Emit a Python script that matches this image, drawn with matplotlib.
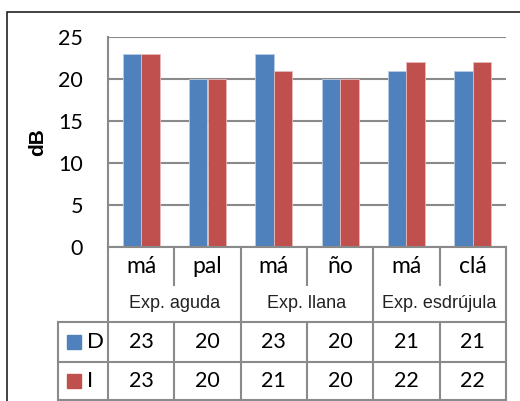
import matplotlib.pyplot as plt
import numpy as np
from matplotlib.patches import Rectangle

syllables = ["má", "pal", "má", "ño", "má", "clá"]
groups = ["Exp. aguda", "Exp. llana", "Exp. esdrújula"]
series_names = ["D", "I"]
d_vals = [23, 20, 23, 20, 21, 21]
i_vals = [23, 20, 21, 20, 22, 22]
yticks = [0, 5, 10, 15, 20, 25]

blue = "#4F81BD"
red = "#C0504D"
grid_c = "#8a8a8a"
num_font = "Lato"
lab_font = "Liberation Sans"

W, H = 520, 401
fig = plt.figure(figsize=(W / 100, H / 100), dpi=100)


def fx(px):
    return px / W


def fy(py):
    return 1 - py / H


# outer chart frame (runs off the canvas at right/bottom)
fig.patches.append(Rectangle((fx(7), fy(430)), fx(560), fy(12) - fy(430),
                             transform=fig.transFigure, fill=False,
                             edgecolor="#222222", lw=1.2))

left, right, top, base = 108, 506, 37, 247
ax = fig.add_axes([fx(left), fy(base), fx(right - left), fy(top) - fy(base)])

x = np.arange(len(syllables))
bw = 0.28
ax.bar(x - bw / 2, d_vals, bw, color=blue, edgecolor="#b8cce4", linewidth=0.6, zorder=3)
ax.bar(x + bw / 2, i_vals, bw, color=red, edgecolor="#e6b9b8", linewidth=0.6, zorder=3)
ax.set_xlim(-0.5, 5.5)
ax.set_ylim(0, 25)
ax.set_yticks(yticks)
ax.set_yticklabels([str(v) for v in yticks], fontname=num_font, fontsize=15.5)
ax.tick_params(axis="y", length=0, pad=18)
ax.set_xticks([])
ax.grid(axis="y", color=grid_c, lw=1.5, zorder=0)
for s in ["top", "right", "bottom"]:
    ax.spines[s].set_visible(False)
ax.spines["left"].set_color(grid_c)
ax.spines["left"].set_linewidth(1.5)
fig.text(fx(38), fy(142), "dB", rotation=90, ha="center", va="center",
         fontname=lab_font, fontweight="bold", fontsize=15)

# data table under the plot
tb = fig.add_axes([fx(left), fy(400), fx(right - left), fy(base) - fy(400)])
tb.set_xlim(-0.5, 5.5)
tb.set_ylim(400, base)
tb.axis("off")
leg_x = -0.5 - (left - 58) / ((right - left) / 6)
lk = dict(color=grid_c, lw=1.5, clip_on=False)

tb.plot([-0.5, 5.5], [base, base], **lk)
for yy in [322, 362, 399.5]:
    tb.plot([leg_x, 5.5], [yy, yy], **lk)
for xx in [-0.5, 1.5, 3.5, 5.5]:
    tb.plot([xx, xx], [base, 400], **lk)
for xx in [0.5, 2.5, 4.5]:
    tb.plot([xx, xx], [base, 285], **lk)
    tb.plot([xx, xx], [322, 400], **lk)
tb.plot([leg_x, leg_x], [322, 400], **lk)

for i, s in enumerate(syllables):
    tb.text(i, 273, s, ha="center", va="baseline", fontname=num_font, fontsize=16.5)
for g, name in enumerate(groups):
    tb.text(2 * g + 0.5, 303, name, ha="center", va="center",
            fontname=lab_font, fontsize=13, color="#222222")

rows = [(342, d_vals, blue, series_names[0]), (381, i_vals, red, series_names[1])]
for yy, vals, col, nm in rows:
    for i, v in enumerate(vals):
        tb.text(i, yy, str(v), ha="center", va="center", fontname=num_font, fontsize=15.5)
    fig.patches.append(Rectangle((fx(67), fy(yy + 7)), fx(14), fy(yy - 7) - fy(yy + 7),
                                 transform=fig.transFigure, color=col))
    fig.text(fx(87), fy(yy), nm, ha="left", va="center", fontname=num_font, fontsize=16)

fig.savefig("out.png", dpi=100)
